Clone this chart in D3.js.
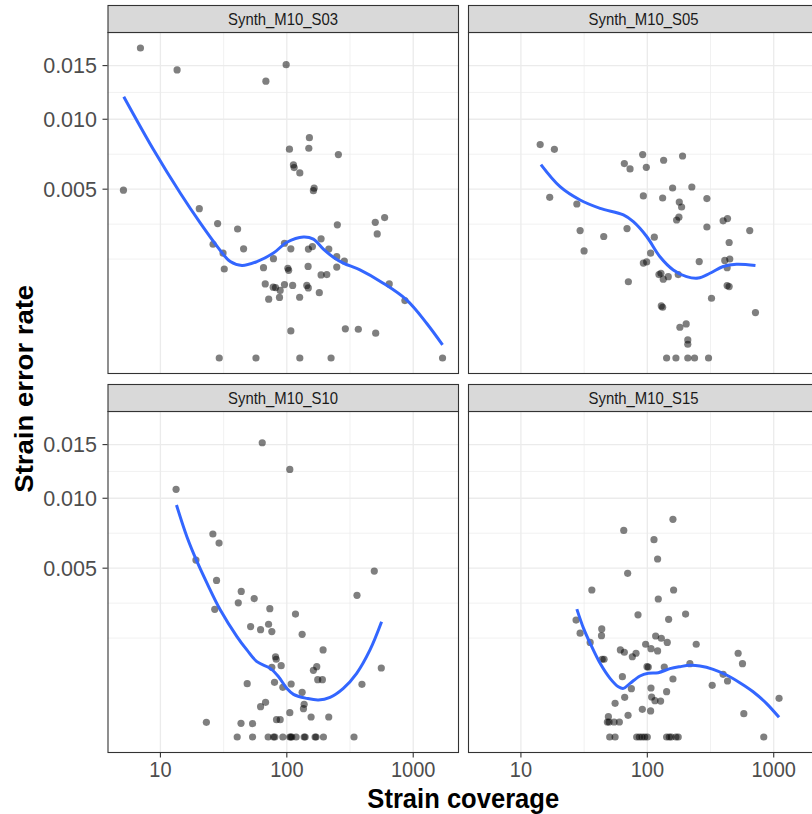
<!DOCTYPE html>
<html>
<head>
<meta charset="utf-8">
<script src="https://cdn.jsdelivr.net/npm/d3@7"></script>
<style>
  html, body { margin: 0; padding: 0; background: #ffffff; }
  svg { display: block; font-family: "Liberation Sans", Arial, Helvetica, sans-serif; }
</style>
</head>
<body>
<svg id="chart" width="812" height="814"></svg>
<script>
// Facet labels, in reading order
const panelNames = ["Synth_M10_S03", "Synth_M10_S05", "Synth_M10_S10", "Synth_M10_S15"];

// Observed strains: [strain coverage, strain error rate]
const pointsS03 = [
  [5.10, 0.00494], [6.95, 0.01686], [13.55, 0.01456], [68.3, 0.01344], [98.8, 0.01510],
  [150.9, 0.00852], [104.9, 0.00765], [149.3, 0.00772], [255.7, 0.00726], [112.8, 0.00654],
  [114.3, 0.00636], [126.7, 0.00601], [164.4, 0.00506], [162.3, 0.00491], [20.3, 0.00391],
  [28.35, 0.00317], [40.8, 0.00292], [251.0, 0.00311], [501, 0.00323], [594, 0.00346],
  [519, 0.00270], [26.1, 0.00227], [31.3, 0.00193], [45.5, 0.00209], [95.8, 0.00231],
  [107.6, 0.00209], [148.2, 0.00208], [159.4, 0.00218], [186.7, 0.00249], [214.8, 0.00208],
  [32.0, 0.00139], [65.4, 0.00143], [78.4, 0.00173], [101.9, 0.00141], [103.4, 0.00135],
  [147.4, 0.00147], [248.3, 0.00180], [285.1, 0.00165], [248.3, 0.00145], [186.7, 0.00121],
  [207.1, 0.00122], [67.5, 0.000963], [78.0, 0.000879], [81.4, 0.000869], [88.6, 0.000801],
  [95.8, 0.000945], [111.2, 0.000924], [143.9, 0.000924], [147.9, 0.000862], [180.7, 0.000748],
  [71.9, 0.000608], [87.5, 0.000644], [126.3, 0.000648], [646, 0.000963], [859, 0.000578],
  [107.6, 0.000129], [290.4, 0.000149], [367.8, 0.000145], [504.6, 0.000108],
  [29.2, 0], [57.0, 0], [126.7, 0], [223.9, 0], [1706, 0]
];
const pointsS05 = [
  [14.2, 0.00799], [18.4, 0.00764], [16.9, 0.00453], [27.7, 0.00416], [29.4, 0.00285],
  [31.6, 0.00201], [45.2, 0.00259], [65.8, 0.00663], [73.0, 0.00627], [91.9, 0.00726],
  [98.2, 0.00638], [93.0, 0.00461], [134.6, 0.00686], [190, 0.00716], [158.5, 0.00507],
  [225, 0.00513], [132.2, 0.00449], [179, 0.00427], [186.7, 0.00400], [177.8, 0.00348],
  [170.4, 0.00334], [296, 0.00446], [69.1, 0.00294], [113.6, 0.00256], [106.2, 0.00193],
  [93.0, 0.00158], [98.8, 0.00162], [70.8, 0.00102], [123.6, 0.00122], [128.2, 0.00126],
  [133.7, 0.00109], [146.5, 0.00116], [175.6, 0.00122], [257.4, 0.00163], [296, 0.00301],
  [398, 0.00330], [431, 0.00341], [444, 0.00234], [410, 0.00167], [449, 0.00172],
  [428, 0.00143], [428, 0.00092], [444, 0.000895], [646, 0.00285], [322, 0.000626],
  [717, 0.000362], [129, 0.000476], [132.2, 0.000452], [181, 0.000166], [203, 0.000204],
  [209, 0.0000575], [209, 0.0000332],
  [142.1, 0], [168.4, 0], [209, 0], [236.4, 0], [305, 0]
];
const pointsS10 = [
  [13.3, 0.01076], [63.9, 0.01519], [105.6, 0.01256], [26.0, 0.00723], [29.1, 0.00660],
  [19.1, 0.00549], [27.8, 0.00430], [43.6, 0.00372], [41.3, 0.00316], [55.2, 0.00336],
  [26.9, 0.00286], [73.4, 0.00289], [117.1, 0.00265], [51.7, 0.00214], [62.0, 0.00202],
  [71.7, 0.00223], [76.1, 0.00195], [132.2, 0.00185], [359, 0.00352], [492, 0.00483],
  [193.6, 0.00133], [81.4, 0.00113], [82.4, 0.00106], [76.1, 0.000851], [90.2, 0.000892],
  [162.3, 0.000779], [172.5, 0.000867], [175.6, 0.000576], [191.2, 0.000576], [559, 0.000835],
  [48.6, 0.000499], [79.9, 0.000524], [93.0, 0.000433], [108.2, 0.000493], [132.2, 0.00035],
  [393, 0.000486], [62.0, 0.000161], [67.9, 0.000211], [137.1, 0.000187], [135.4, 0.000141],
  [105.6, 0.000104], [155.6, 0.0000701], [214.6, 0.0000701], [23.1, 0.0000377], [43.4, 0.0000328],
  [53.6, 0.0000312], [82.9, 0.0000527], [88.6, 0.0000527],
  [40.5, 0], [53.6, 0], [71.2, 0], [78.5, 0], [80.4, 0], [93.0, 0], [105.6, 0], [107.5, 0],
  [109.5, 0], [118.5, 0], [137.1, 0], [139.6, 0], [167.4, 0], [170.4, 0], [194.8, 0], [340, 0]
];
const pointsS15 = [
  [159.5, 0.00831], [65.1, 0.00749], [112.9, 0.00683], [120.6, 0.00556], [69.9, 0.00470],
  [36.4, 0.00379], [161.4, 0.00379], [122.1, 0.00334], [84.4, 0.00262], [200.8, 0.00265],
  [147.4, 0.00243], [27.3, 0.00240], [29.4, 0.00189], [43.6, 0.00205], [43.4, 0.00180],
  [35.3, 0.00157], [116.4, 0.00179], [129, 0.00171], [143.8, 0.00157], [243.7, 0.00151],
  [97.0, 0.00151], [106.9, 0.00137], [120.6, 0.00130], [61.2, 0.00133], [65.8, 0.00126],
  [81.4, 0.00123], [76.1, 0.00113], [43.9, 0.00106], [45.5, 0.00106], [99.4, 0.000867],
  [101.8, 0.00086], [136.2, 0.00086], [217.2, 0.000943], [523, 0.00123], [566, 0.000943],
  [63.5, 0.000638], [159.5, 0.00059], [398, 0.000689], [431, 0.00055], [326, 0.000468],
  [74.8, 0.00041], [106.9, 0.000421], [142.1, 0.00036], [66.2, 0.000276], [108.2, 0.000281],
  [114.9, 0.000232], [127.4, 0.000227], [55.6, 0.000199], [1102, 0.000262], [91.3, 0.000134],
  [106.2, 0.000119], [70.4, 0.0000823], [580, 0.0000955], [49.2, 0.0000725],
  [48.3, 0.0000395], [49.8, 0.0000395], [54.6, 0.0000395], [60.1, 0.0000395],
  [50.4, 0], [55.6, 0], [82.4, 0], [86.5, 0], [90.8, 0], [95.3, 0], [100, 0],
  [142.1, 0], [149.2, 0], [154.7, 0], [168.4, 0], [175.6, 0], [834, 0]
];

// Smoothed trend per facet: [strain coverage, fitted error rate]
const smoothS03 = [
  [5.13, 0.01198], [8.85, 0.00759], [14.38, 0.00476], [20.7, 0.00319], [28.9, 0.00211],
  [35.7, 0.00163], [44.2, 0.00150], [58.0, 0.00163], [78.4, 0.00193], [100.1, 0.00235],
  [135.3, 0.00257], [162.3, 0.00248], [194.7, 0.00208], [233.4, 0.00178], [280, 0.00158],
  [379, 0.00136], [579, 0.000981], [886, 0.000592], [1276, 0.000212], [1706, 0.0000301]
];
const smoothS05 = [
  [14.4, 0.00656], [20.4, 0.00515], [29.4, 0.00438], [42.3, 0.00393], [64.7, 0.00359],
  [77.5, 0.00326], [98.8, 0.00259], [125.9, 0.00180], [160.5, 0.00136], [204.4, 0.00116],
  [252.7, 0.00112], [312.5, 0.00126], [398, 0.00147], [507, 0.00154], [717, 0.00150]
];
const smoothS10 = [
  [13.4, 0.00944], [16.2, 0.00704], [19.5, 0.00539], [23.4, 0.00414], [29.8, 0.00283],
  [40.3, 0.00177], [48.3, 0.00133], [58.0, 0.000995], [73.9, 0.000827], [86.0, 0.000638],
  [100, 0.000415], [112.9, 0.000319], [143.8, 0.000262], [177.8, 0.00024], [219.8, 0.000276],
  [280, 0.000415], [357, 0.000711], [455, 0.00133], [562, 0.00233]
];
const smoothS15 = [
  [27.7, 0.00287], [31.3, 0.00207], [35.3, 0.00154], [42.3, 0.000952], [50.7, 0.000604],
  [59.0, 0.000444], [64.7, 0.000415], [73.0, 0.000505], [87.5, 0.000653], [101.8, 0.000711],
  [122.1, 0.000726], [151, 0.000819], [181, 0.000867], [217.2, 0.000901], [260.5, 0.000884],
  [332, 0.000803], [423, 0.000674], [539, 0.000518], [687, 0.00036], [875, 0.000199],
  [1102, 0.0000678]
];

// Axis breaks and titles
const xTicks = [10, 100, 1000];
const xTickLabels = ["10", "100", "1000"];
const yTicks = [0.005, 0.010, 0.015];
const yTickLabels = ["0.005", "0.010", "0.015"];
const xTitle = "Strain coverage";
const yTitle = "Strain error rate";

const facetPoints = [pointsS03, pointsS05, pointsS10, pointsS15];
const facetSmooth = [smoothS03, smoothS05, smoothS10, smoothS15];

// ---- layout ----
const svg = d3.select("#chart");
const W = 812, H = 814;
const marginLeft = 107.5, marginTop = 5;
const panelW = 351, panelH = 341, stripH = 27.5;
const gapX = 9.5, gapY = 10.5;
const tickLen = 5;
const squeeze = 0.93;   // horizontal glyph compression

svg.append("rect").attr("width", W).attr("height", H).attr("fill", "#ffffff");

// shared scales (log10 x, square-root y), padded 5% in transformed space
const allPts = facetPoints.flat();
const lx = d3.extent(allPts, d => Math.log10(d[0]));
const padX = (lx[1] - lx[0]) * 0.05;
const x = d3.scaleLog()
  .domain([Math.pow(10, lx[0] - padX), Math.pow(10, lx[1] + padX)])
  .range([0, panelW]);

const sy = d3.extent(allPts, d => Math.sqrt(d[1]));
const padY = (sy[1] - sy[0]) * 0.05;
const lo = sy[0] - padY, hi = sy[1] + padY;
const y = d3.scaleSqrt()
  .domain([Math.sign(lo) * lo * lo, Math.sign(hi) * hi * hi])
  .range([panelH, 0]);

// minor breaks halfway between majors in transformed space
function minorBreaks(majorsT, limT) {
  const bd = majorsT[1] - majorsT[0];
  let b = majorsT.slice();
  if (limT[0] < b[0]) b.unshift(b[0] - bd);
  if (limT[1] > b[b.length - 1]) b.push(b[b.length - 1] + bd);
  const out = [];
  for (let i = 0; i < b.length - 1; i++) { out.push(b[i]); out.push((b[i] + b[i + 1]) / 2); }
  out.push(b[b.length - 1]);
  return out.filter(v => v >= limT[0] && v <= limT[1] && !majorsT.some(m => Math.abs(m - v) < 1e-9));
}
const xMinor = minorBreaks(xTicks.map(Math.log10), x.domain().map(Math.log10)).map(v => Math.pow(10, v));
const yMinor = minorBreaks(yTicks.map(Math.sqrt), [lo, hi]).map(v => Math.sign(v) * v * v);

const line = d3.line()
  .x(d => x(d[0]))
  .y(d => y(d[1]))
  .curve(d3.curveCatmullRom.alpha(0.5));

panelNames.forEach((name, i) => {
  const col = i % 2, row = Math.floor(i / 2);
  const x0 = marginLeft + col * (panelW + gapX);
  const y0 = marginTop + row * (stripH + panelH + gapY);
  const g = svg.append("g").attr("transform", `translate(${x0},${y0 + stripH})`);

  // panel background
  g.append("rect").attr("width", panelW).attr("height", panelH).attr("fill", "#ffffff");

  // grid
  const grid = g.append("g");
  grid.selectAll(".xmin").data(xMinor).enter().append("line")
    .attr("x1", d => x(d)).attr("x2", d => x(d)).attr("y1", 0).attr("y2", panelH)
    .attr("stroke", "#ebebeb").attr("stroke-width", 0.7);
  grid.selectAll(".ymin").data(yMinor).enter().append("line")
    .attr("y1", d => y(d)).attr("y2", d => y(d)).attr("x1", 0).attr("x2", panelW)
    .attr("stroke", "#ebebeb").attr("stroke-width", 0.7);
  grid.selectAll(".xmaj").data(xTicks).enter().append("line")
    .attr("x1", d => x(d)).attr("x2", d => x(d)).attr("y1", 0).attr("y2", panelH)
    .attr("stroke", "#ebebeb").attr("stroke-width", 1.3);
  grid.selectAll(".ymaj").data(yTicks).enter().append("line")
    .attr("y1", d => y(d)).attr("y2", d => y(d)).attr("x1", 0).attr("x2", panelW)
    .attr("stroke", "#ebebeb").attr("stroke-width", 1.3);

  // points
  g.append("g").selectAll("circle").data(facetPoints[i]).enter().append("circle")
    .attr("cx", d => x(d[0])).attr("cy", d => y(d[1])).attr("r", 3.6)
    .attr("fill", "#000000").attr("fill-opacity", 0.5);

  // smooth
  g.append("path").datum(facetSmooth[i]).attr("d", line)
    .attr("fill", "none").attr("stroke", "#3366FF").attr("stroke-width", 3)
    .attr("stroke-linecap", "butt");

  // panel border
  g.append("rect").attr("x", 0.5).attr("y", 0).attr("width", panelW - 0.5).attr("height", panelH)
    .attr("fill", "none").attr("stroke", "#333333").attr("stroke-width", 1.1);

  // strip
  const s = svg.append("g").attr("transform", `translate(${x0},${y0})`);
  s.append("rect").attr("x", 0.5).attr("y", 0.5).attr("width", panelW - 0.5).attr("height", stripH - 0.5)
    .attr("fill", "#d9d9d9").attr("stroke", "#333333").attr("stroke-width", 1.1);
  s.append("text")
    .attr("transform", `translate(${panelW / 2},${stripH / 2 + 5.8}) scale(${squeeze},1)`)
    .attr("text-anchor", "middle").attr("font-size", 16).attr("fill", "#1a1a1a")
    .text(name);

  // y axis on the left column
  if (col === 0) {
    const ya = g.append("g");
    ya.selectAll("line").data(yTicks).enter().append("line")
      .attr("x1", -tickLen).attr("x2", 0).attr("y1", d => y(d)).attr("y2", d => y(d))
      .attr("stroke", "#333333").attr("stroke-width", 1.1);
    ya.selectAll("text").data(yTicks).enter().append("text")
      .attr("transform", d => `translate(${-tickLen - 5.5},${y(d) + 7.6})`)
      .attr("text-anchor", "end").attr("font-size", 21.5).attr("fill", "#4d4d4d")
      .text((d, k) => yTickLabels[k]);
  }
  // x axis on the bottom row
  if (row === 1) {
    const xa = g.append("g").attr("transform", `translate(0,${panelH})`);
    xa.selectAll("line").data(xTicks).enter().append("line")
      .attr("x1", d => x(d)).attr("x2", d => x(d)).attr("y1", 0).attr("y2", tickLen)
      .attr("stroke", "#333333").attr("stroke-width", 1.1);
    xa.selectAll("text").data(xTicks).enter().append("text")
      .attr("transform", d => `translate(${x(d)},${tickLen + 19.5}) scale(${squeeze},1)`)
      .attr("text-anchor", "middle").attr("font-size", 21.5).attr("fill", "#4d4d4d")
      .text((d, k) => xTickLabels[k]);
  }
});

// axis titles
const panelsMidX = marginLeft + (2 * panelW + gapX) / 2;
const panelsMidY = marginTop + (2 * (stripH + panelH) + gapY) / 2;
svg.append("text")
  .attr("transform", `translate(${panelsMidX},807.5) scale(${squeeze},1)`)
  .attr("text-anchor", "middle").attr("font-size", 27.5).attr("font-weight", "bold").attr("fill", "#000000")
  .text(xTitle);
svg.append("text")
  .attr("transform", `translate(32.5,${panelsMidY + 10}) scale(${squeeze},1) rotate(-90)`)
  .attr("text-anchor", "middle").attr("font-size", 27.5).attr("font-weight", "bold").attr("fill", "#000000")
  .text(yTitle);
</script>
</body>
</html>
